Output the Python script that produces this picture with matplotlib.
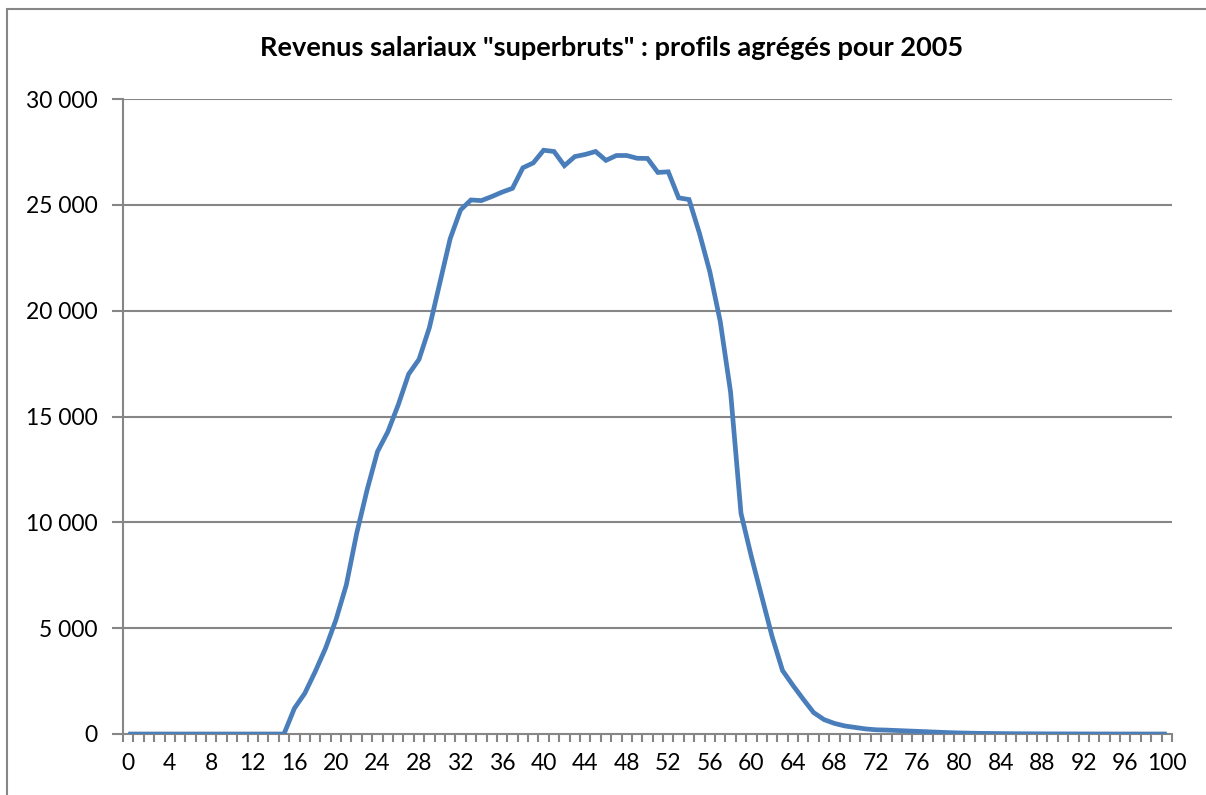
import numpy as np
import matplotlib
matplotlib.use("Agg")
import matplotlib.pyplot as plt
from matplotlib.patches import Rectangle
from matplotlib.ticker import FixedLocator, FuncFormatter

# ---------- Data ----------
ages = list(range(0, 101))
revenus = [
    0, 0, 0, 0, 0, 0, 0, 0, 0, 0,                     # 0-9
    0, 0, 0, 0, 0, 0, 1210, 1920, 2940, 4050,         # 10-19
    5390, 7040, 9480, 11530, 13340, 14280, 15550, 17000, 17700, 19200,  # 20-29
    21300, 23400, 24760, 25230, 25200, 25390, 25600, 25780, 26750, 26980,  # 30-39
    27580, 27520, 26850, 27280, 27380, 27520, 27100, 27330, 27330, 27200,  # 40-49
    27190, 26530, 26560, 25330, 25250, 23660, 21840, 19500, 16150, 10430,  # 50-59
    8380, 6490, 4600, 3000, 2300, 1640, 1010, 680, 500, 380,  # 60-69
    310, 240, 200, 185, 165, 145, 125, 105, 85, 65,  # 70-79
    50, 40, 30, 25, 20, 15, 12, 10, 8, 6,  # 80-89
    5, 4, 3, 2, 2, 1, 1, 1, 0, 0, 0,  # 90-100
]
y_ticks = [0, 5000, 10000, 15000, 20000, 25000, 30000]
x_labels = list(range(0, 101, 4))
title = 'Revenus salariaux "superbruts" : profils agrégés pour 2005'

plt.rcParams['font.family'] = ['Lato', 'DejaVu Sans']

fig = plt.figure(figsize=(12.06, 7.95), dpi=100)
ax = fig.add_axes([123 / 1206, 1 - 734 / 795, (1172 - 123) / 1206, (734 - 99) / 795])

grid_col = "#868686"

# outer chart border
fig.patches.append(Rectangle((7 / 1206, -0.05), 1.2, (795 - 9) / 795 + 0.05,
                             transform=fig.transFigure, fill=False,
                             edgecolor=grid_col, linewidth=1.5))

for yv in y_ticks[1:]:
    ax.axhline(yv, color=grid_col, linewidth=1.5, zorder=1)

ax.plot(ages, revenus, color="#4a7ebb", linewidth=3.4, zorder=3,
        solid_joinstyle="miter", solid_capstyle="butt")

ax.set_xlim(-0.5, 100.5)
ax.set_ylim(0, 30000)

for side in ["top", "right"]:
    ax.spines[side].set_visible(False)
for side in ["left", "bottom"]:
    ax.spines[side].set_color(grid_col)
    ax.spines[side].set_linewidth(1.5)

ax.yaxis.set_major_locator(FixedLocator(y_ticks))
ax.yaxis.set_major_formatter(FuncFormatter(lambda v, p: f"{int(v):,}".replace(",", " ")))
ax.tick_params(axis="y", length=8, width=1.5, color=grid_col, labelsize=16.5, pad=10)

ax.xaxis.set_major_locator(FixedLocator(x_labels))
ax.xaxis.set_minor_locator(FixedLocator(np.arange(-0.5, 101, 1)))
ax.tick_params(axis="x", which="major", length=0, labelsize=16.5, pad=14)
ax.tick_params(axis="x", which="minor", length=6, width=1.5, color=grid_col)

fig.text(612 / 1206, 1 - 48 / 795, title, ha="center", va="center",
         fontsize=19.5, fontweight="bold")

fig.savefig("out.png", dpi=100)
